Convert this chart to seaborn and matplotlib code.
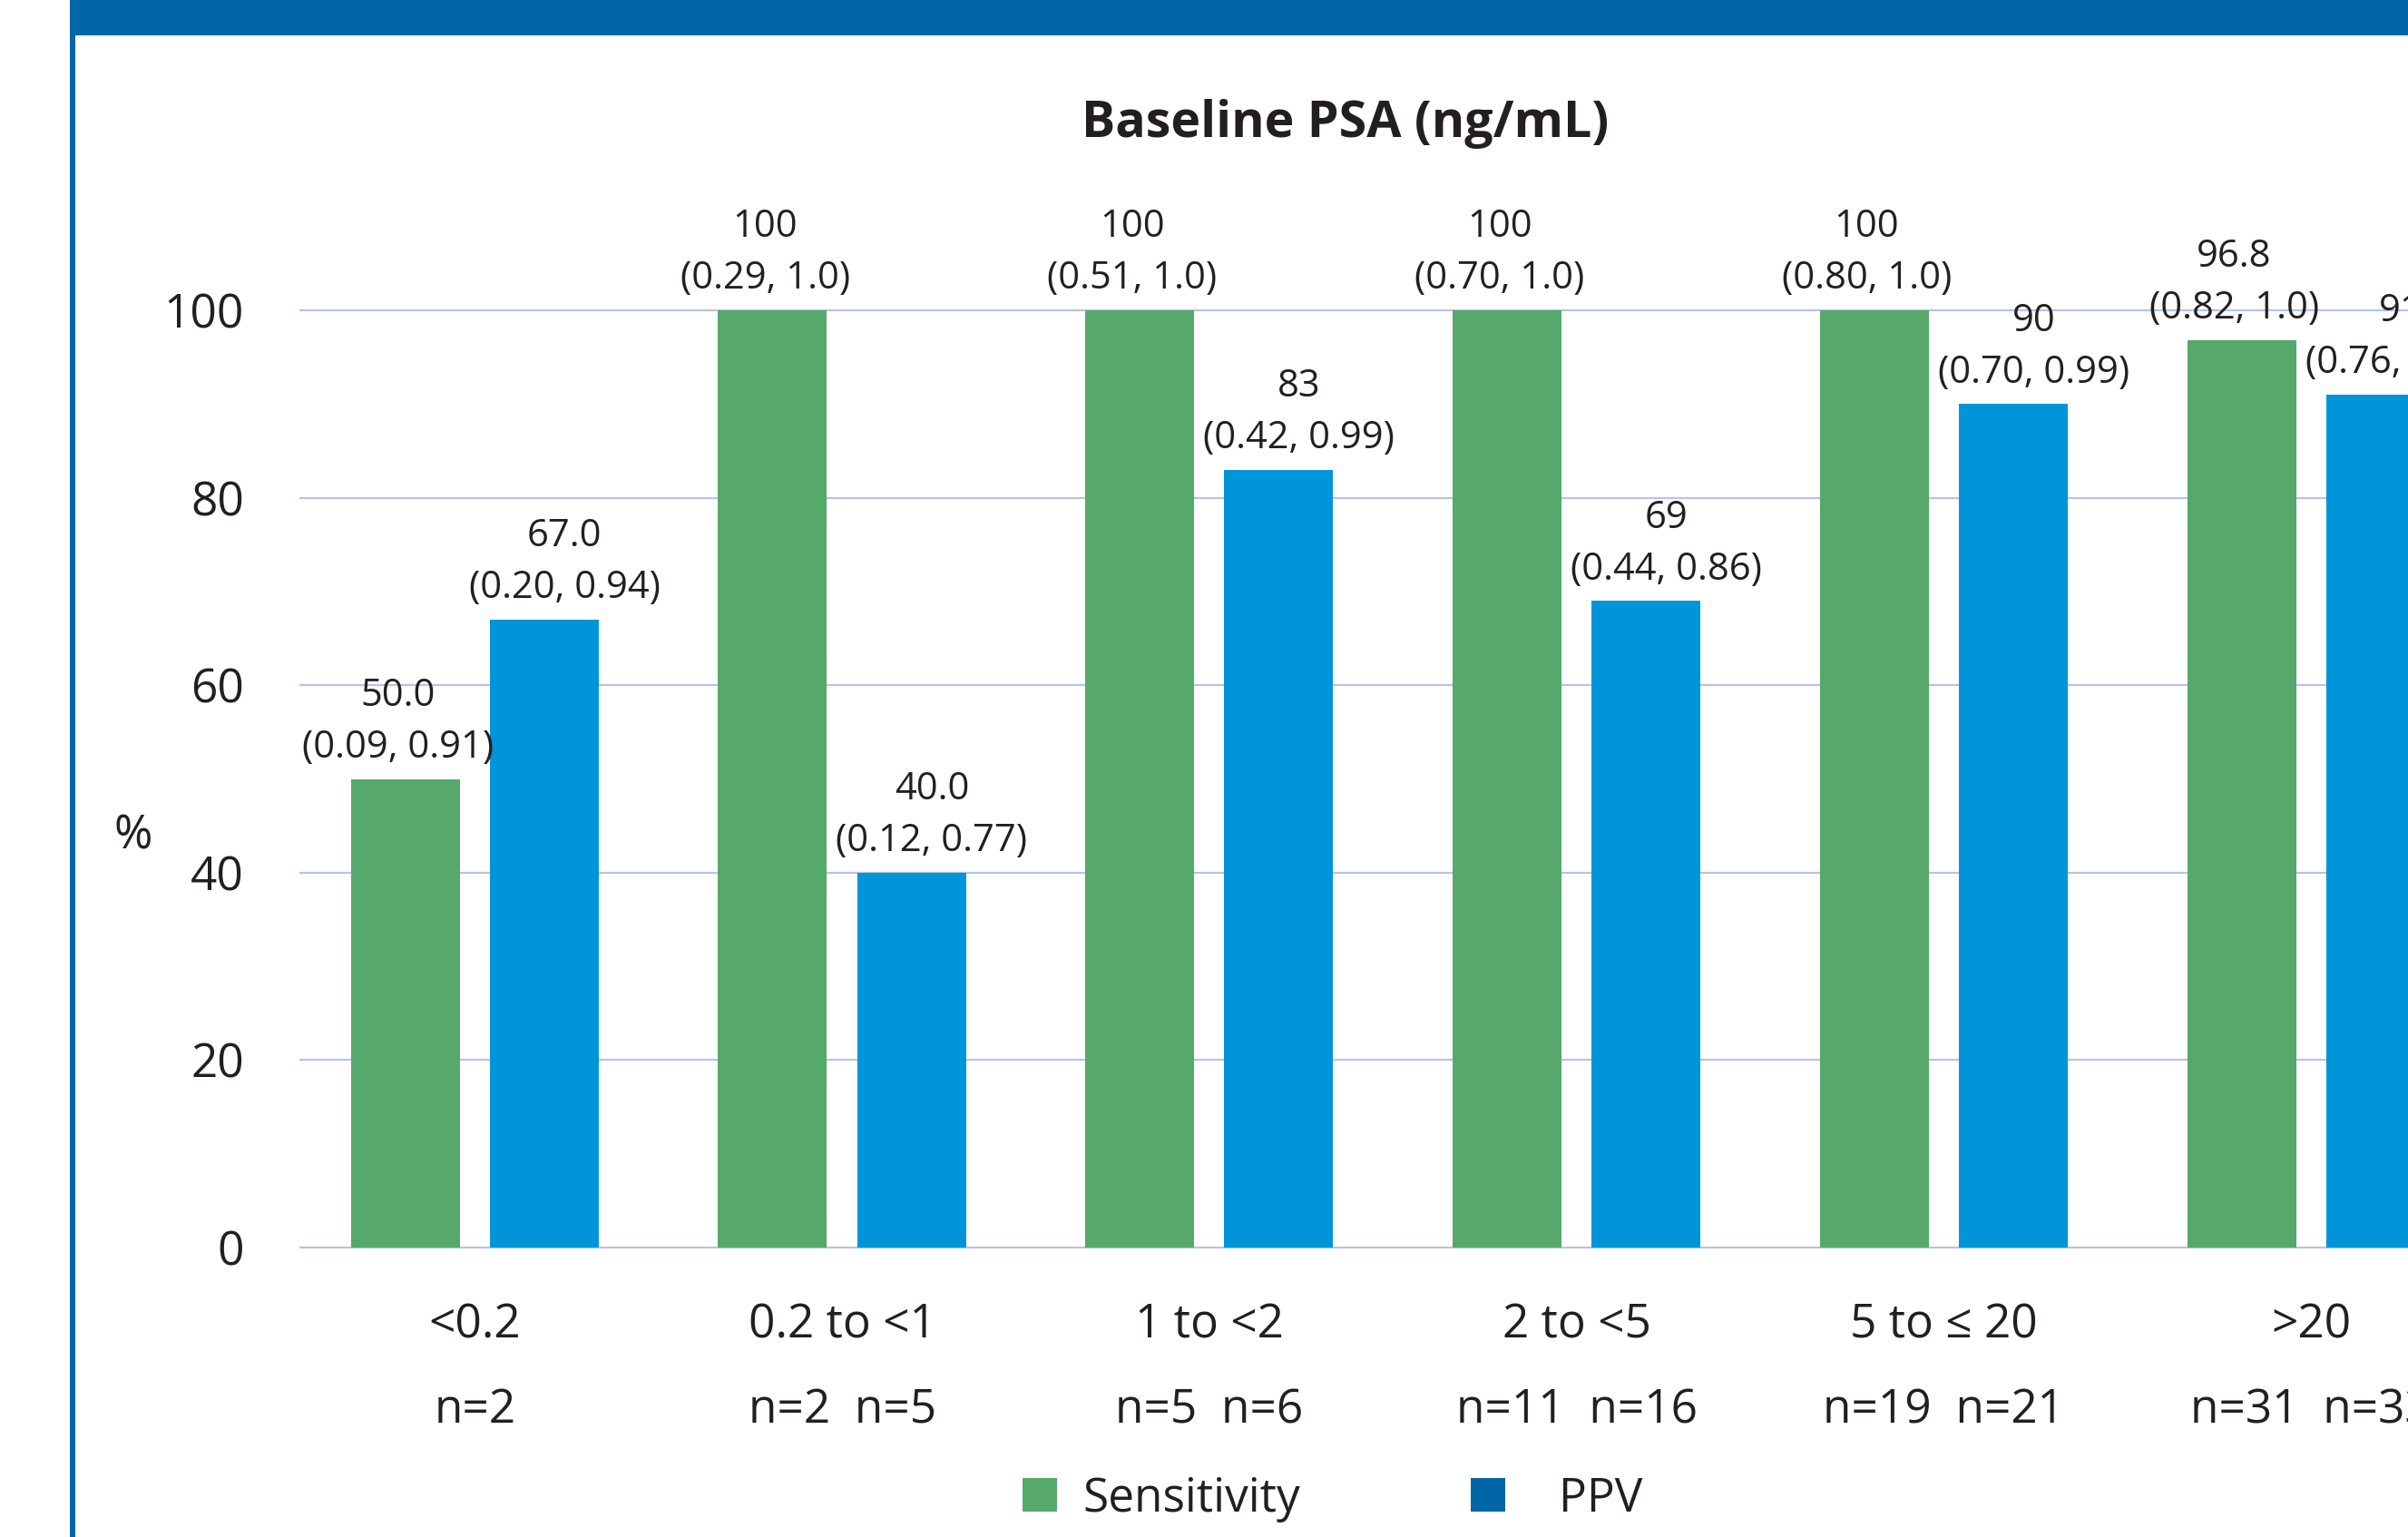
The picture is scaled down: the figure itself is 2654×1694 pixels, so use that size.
import matplotlib
matplotlib.use("Agg")
import matplotlib.pyplot as plt
import matplotlib.patches as mpatches
import matplotlib.transforms as mtransforms
import seaborn as sns
import pandas as pd

# ---------------- data ----------------
categories = ["<0.2", "0.2 to <1", "1 to <2", "2 to <5", "5 to \u2264 20", ">20"]
series = ["Sensitivity", "PPV"]
sensitivity = [50.0, 100, 100, 100, 100, 96.8]
ppv = [67.0, 40.0, 83, 69, 90, 91]
sens_labels = ["50.0", "100", "100", "100", "100", "96.8"]
ppv_labels = ["67.0", "40.0", "83", "69", "90", "91"]
sens_ci = ["(0.09, 0.91)", "(0.29, 1.0)", "(0.51, 1.0)", "(0.70, 1.0)", "(0.80, 1.0)", "(0.82, 1.0)"]
ppv_ci = ["(0.20, 0.94)", "(0.12, 0.77)", "(0.42, 0.99)", "(0.44, 0.86)", "(0.70, 0.99)", "(0.76, 0.98)"]
n_sens = [2, 2, 5, 11, 19, 31]
n_ppv = [None, 5, 6, 16, 21, 33]
yticks = [0, 20, 40, 60, 80, 100]
title = "Baseline PSA (ng/mL)"

# ---------------- style ----------------
GREEN = "#56a86b"
BLUE = "#0095d8"
DARK_BLUE = "#0066a8"
GRID = "#b4c5e4"
TEXT = "#231f20"

sns.set_theme(style="white")
plt.rcParams["font.family"] = ["Open Sans", "DejaVu Sans"]
plt.rcParams["text.color"] = TEXT

W, H = 2654, 1694
fig = plt.figure(figsize=(W / 100, H / 100), dpi=100)
fig.patch.set_facecolor("white")

ylo, yhi = -1, 110
px_per_unit = (1375 - 342) / 100.0
ax_bottom_px = 1375 + (0 - ylo) * px_per_unit
ax_top_px = 1375 - yhi * px_per_unit
ax = fig.add_axes([330 / W, 1 - ax_bottom_px / H, 1 - 330 / W, (ax_bottom_px - ax_top_px) / H])

df = pd.DataFrame({
    "category": categories * 2,
    "metric": [series[0]] * len(categories) + [series[1]] * len(categories),
    "value": sensitivity + ppv,
})

sns.barplot(data=df, x="category", y="value", hue="metric", order=categories,
            hue_order=series, palette=[GREEN, BLUE], saturation=1, width=0.757, gap=0.217,
            linewidth=0, errorbar=None, legend=False, ax=ax)

ax.set_xlim(-0.4775, 5.2637)
ax.set_ylim(ylo, yhi)
ax.set_yticks(yticks)
ax.set_yticklabels([str(t) for t in yticks])
ax.yaxis.grid(True, color=GRID, linewidth=1.6)
ax.xaxis.grid(False)
ax.set_axisbelow(True)
for s in ax.spines.values():
    s.set_visible(False)
ax.set_xlabel("")
ax.tick_params(axis="y", length=0, pad=44, labelsize=37, labelcolor=TEXT)
ax.tick_params(axis="x", length=0, pad=36, labelsize=37, labelcolor=TEXT)
for lbl in ax.get_xticklabels():
    lbl.set_x(lbl.get_position()[0])

ax.set_ylabel("%", rotation=0, fontsize=37, color=TEXT, ha="center", va="center")
ax.yaxis.set_label_coords(147 / W, 1 - 922 / H, transform=fig.transFigure)

# value labels
offsets = [-6, 16]
for cont, labs, cis, dx in zip(ax.containers, [sens_labels, ppv_labels], [sens_ci, ppv_ci], offsets):
    for bar, lab, ci in zip(cont, labs, cis):
        x = bar.get_x() + bar.get_width() / 2
        y = bar.get_y() + bar.get_height()
        ax.annotate(ci, (x, y), xytext=(dx, 25), textcoords="offset points",
                    ha="center", va="center", fontsize=30, color=TEXT, annotation_clip=False)
        ax.annotate(lab, (x, y), xytext=(dx, 66), textcoords="offset points",
                    ha="center", va="center", fontsize=30, color=TEXT, annotation_clip=False)

# n labels
blend = mtransforms.blended_transform_factory(ax.transData, fig.transFigure)
for i, (a, b) in enumerate(zip(n_sens, n_ppv)):
    s = f"n={a}" if b is None else f"n={a}  n={b}"
    ax.text(i, 1 - 1568 / H, s, transform=blend, ha="center", va="baseline",
            fontsize=37, color=TEXT, clip_on=False)

# title
fig.text(1483 / W, 1 - 137 / H, title, ha="center", va="center",
         fontsize=40, fontweight="bold", color=TEXT)

# frame decoration: top band and left rule
fig.add_artist(mpatches.Rectangle((77 / W, 1 - 39 / H), 1, 39 / H,
                                  transform=fig.transFigure, color=DARK_BLUE, lw=0))
fig.add_artist(mpatches.Rectangle((77 / W, 0), 6 / W, 1,
                                  transform=fig.transFigure, color=DARK_BLUE, lw=0))

# legend
leg_y = 1 - 1652 / H
for lab, col, xpx, tpad in [(series[0], GREEN, 1127, 0.55), (series[1], DARK_BLUE, 1621, 1.15)]:
    h = mpatches.Patch(facecolor=col, edgecolor="none", label=lab)
    fig.legend(handles=[h], loc="center left", bbox_to_anchor=(xpx / W, leg_y),
               frameon=False, fontsize=37, handlelength=0.74, handleheight=0.74,
               handletextpad=tpad, borderpad=0, borderaxespad=0)

fig.savefig("out.png", dpi=100)
